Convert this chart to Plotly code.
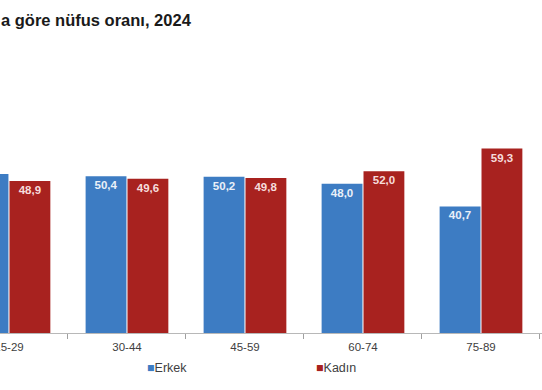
import plotly.graph_objects as go

categories = ["15-29", "30-44", "45-59", "60-74", "75-89"]
erkek = [51.1, 50.4, 50.2, 48.0, 40.7]
kadin = [48.9, 49.6, 49.8, 52.0, 59.3]
series_names = ["Erkek", "Kadın"]
title_text = "a göre nüfus oranı, 2024"

BLUE = "#3d7cc3"
RED = "#a8221f"
FONT = "Liberation Sans, Arial, sans-serif"

def fmt(v):
    return f"{v:.1f}".replace(".", ",")

fig = go.Figure()
fig.add_trace(go.Bar(
    x=categories, y=erkek, name=series_names[0],
    marker=dict(color=BLUE, line=dict(width=0)),
    text=[fmt(v) for v in erkek], textposition="inside", insidetextanchor="end",
    textfont=dict(family=FONT, size=11.5, color="#eaf0f8", weight="bold"),
    textangle=0, showlegend=False,
))
fig.add_trace(go.Bar(
    x=categories, y=kadin, name=series_names[1],
    marker=dict(color=RED, line=dict(width=0)),
    text=[fmt(v) for v in kadin], textposition="inside", insidetextanchor="end",
    textfont=dict(family=FONT, size=11.5, color="#f6dcdc", weight="bold"),
    textangle=0, showlegend=False,
))

# legend drawn as annotations using series names/colors
legend_items = [(series_names[0], BLUE, 145), (series_names[1], RED, 314)]
for name, col, px in legend_items:
    fig.add_annotation(
        x=px / 542, y=-35 / 293, xref="paper", yref="paper",
        xanchor="left", yanchor="middle", showarrow=False,
        text=f"<span style='color:{col}'>■</span>{name}",
        font=dict(family=FONT, size=12.5, color="#404040"),
    )

fig.add_annotation(
    x=0, y=(333 - 20) / 293, xref="paper", yref="paper",
    xanchor="left", yanchor="middle", showarrow=False, borderpad=0,
    text=f"<b>{title_text}</b>",
    font=dict(family=FONT, size=16.5, color="#1a1a1a"),
)

fig.update_layout(
    width=542, height=390,
    margin=dict(l=0, r=0, t=40, b=57, autoexpand=False),
    paper_bgcolor="white", plot_bgcolor="white",
    barmode="group", bargap=0.29, bargroupgap=0.025,
    xaxis=dict(
        range=[-0.076, 4.517], showgrid=False, showline=True, automargin=False,
        linecolor="#b8b8b8", linewidth=1,
        ticks="outside", tickson="boundaries", ticklen=5, tickcolor="#a0a0a0",
        ticklabelstandoff=3,
        tickfont=dict(family=FONT, size=11.5, color="#404040"),
    ),
    yaxis=dict(range=[0, 94.2], visible=False, showgrid=False),
    font=dict(family=FONT),
)

fig.write_html("out.html", config={"displayModeBar": False},
               post_script="document.body.style.margin='0';document.body.style.overflow='hidden';")
